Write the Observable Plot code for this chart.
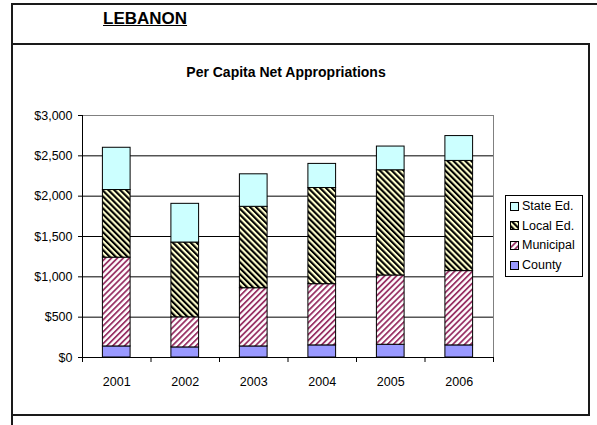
<!DOCTYPE html>
<html><head><meta charset="utf-8">
<script src="https://cdn.jsdelivr.net/npm/d3@7"></script>
<script src="https://cdn.jsdelivr.net/npm/@observablehq/plot@0.6"></script>
<style>
html,body{margin:0;padding:0;background:#fff;}
#wrap{position:relative;width:597px;height:425px;overflow:hidden;font-family:"Liberation Sans",Arial,sans-serif;color:#000;}
.ln{position:absolute;background:#1a1a1a;}
#chart{position:absolute;left:0;top:0;}
#country{position:absolute;left:103px;top:9px;font-weight:bold;font-size:17px;text-decoration:underline;}
#title{position:absolute;left:186px;width:200px;text-align:center;top:64px;font-weight:bold;font-size:14px;white-space:nowrap;}
#legend{position:absolute;left:505px;top:195px;width:76px;height:80px;border:1px solid #000;background:#fff;font-size:12.5px;}
.li{position:absolute;left:4px;height:16px;display:flex;align-items:center;white-space:nowrap;}
.li svg{margin-right:3px;}
</style></head><body>
<div id="wrap">
<svg width="0" height="0" style="position:absolute">
 <defs>
  <pattern id="pMun" patternUnits="userSpaceOnUse" width="4.2" height="4.2" patternTransform="rotate(45)">
   <rect width="4.2" height="4.2" fill="#ffffff"/>
   <rect width="1.8" height="4.2" fill="#993366"/>
  </pattern>
  <pattern id="pLoc" patternUnits="userSpaceOnUse" width="4.2" height="4.2" patternTransform="rotate(-45)">
   <rect width="4.2" height="4.2" fill="#FFFFCC"/>
   <rect width="2.1" height="4.2" fill="#000000"/>
  </pattern>
 </defs>
</svg>
<div id="chart"></div>
<div class="ln" style="left:12px;top:3px;width:585px;height:2px;"></div>
<div class="ln" style="left:11px;top:3px;width:2px;height:422px;"></div>
<div class="ln" style="left:12px;top:43px;width:578px;height:2px;"></div>
<div class="ln" style="left:588px;top:43px;width:2px;height:373px;"></div>
<div class="ln" style="left:12px;top:414px;width:578px;height:2px;"></div>
<div id="country">LEBANON</div>
<div id="title">Per Capita Net Appropriations</div>
<div id="legend"></div>
</div>
<script>
const years = [2001, 2002, 2003, 2004, 2005, 2006];
const series = ["County", "Municipal", "Local Ed.", "State Ed."];
const county    = [137, 125, 137, 150, 158, 150];
const municipal = [1101, 373, 722, 759, 859, 921];
const localEd   = [838, 927, 1009, 1192, 1304, 1366];
const stateEd   = [524, 480, 403, 299, 294, 308];
const yTicks = [0, 500, 1000, 1500, 2000, 2500, 3000];
const legendOrder = ["State Ed.", "Local Ed.", "Municipal", "County"];
const fills = {"County": "#9999FF", "Municipal": "url(#pMun)", "Local Ed.": "url(#pLoc)", "State Ed.": "#CCFFFF"};

const values = {"County": county, "Municipal": municipal, "Local Ed.": localEd, "State Ed.": stateEd};
const data = years.flatMap((yr, i) => series.map(s => ({year: yr, series: s, value: values[s][i]})));
const bounds = [years[0] - 0.5, ...years.map(y => y + 0.5)];

const chart = Plot.plot({
  width: 597, height: 425,
  marginLeft: 82, marginRight: 104, marginTop: 115, marginBottom: 68,
  style: {fontFamily: '"Liberation Sans", Arial, sans-serif', fontSize: "12.5px", color: "#000", background: "transparent", overflow: "visible"},
  x: {domain: [bounds[0], bounds[bounds.length - 1]]},
  y: {domain: [0, 3000]},
  color: {type: "ordinal", domain: series, range: series.map(s => fills[s])},
  marks: [
    Plot.ruleY(yTicks.filter(v => v > 0 && v < 3000), {stroke: "#000", strokeWidth: 1}),
    Plot.ruleY([3000], {stroke: "#808080", strokeWidth: 1}),
    Plot.ruleX([bounds[bounds.length - 1]], {stroke: "#808080", strokeWidth: 1}),
    Plot.rectY(data, Plot.stackY({
      x1: d => d.year - 0.5, x2: d => d.year + 0.5, y: "value", fill: "series",
      stroke: "#000", strokeWidth: 1, insetLeft: 20.4, insetRight: 20.4
    })),
    Plot.ruleY([0], {stroke: "#000"}),
    Plot.ruleX([bounds[0]], {stroke: "#000"}),
    Plot.axisY({ticks: yTicks, tickFormat: d => "$" + d3.format(",")(d), tickSize: 4, tickPadding: 6, label: null}),
    Plot.axisX({ticks: bounds, tickSize: 5, tickFormat: () => "", label: null}),
    Plot.axisX({ticks: years, tickSize: 0, tickPadding: 20, tickFormat: d => String(d), label: null})
  ]
});
document.getElementById("chart").appendChild(chart);

const leg = document.getElementById("legend");
legendOrder.forEach((s, i) => {
  const div = document.createElement("div");
  div.className = "li";
  div.style.top = (2 + i * 19.7) + "px";
  div.innerHTML = `<svg width="9" height="9"><rect x="0.5" y="0.5" width="8" height="8" fill="${fills[s]}" stroke="#000"/></svg><span>${s}</span>`;
  leg.appendChild(div);
});
</script>
</body></html>
